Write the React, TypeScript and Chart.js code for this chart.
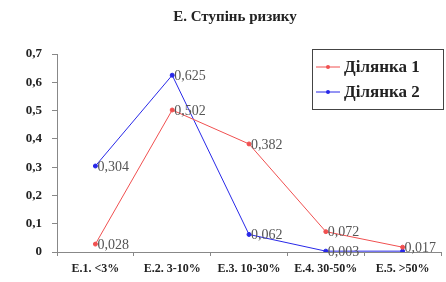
import React, { useEffect, useRef } from "react";
import { Chart, registerables } from "chart.js";

Chart.register(...registerables);

const titleText = "Е. Ступінь ризику";
const categories = ["Е.1. <3%", "Е.2. 3-10%", "Е.3. 10-30%", "Е.4. 30-50%", "Е.5. >50%"];
const series1Name = "Ділянка 1";
const series2Name = "Ділянка 2";
const series1 = [0.028, 0.502, 0.382, 0.072, 0.017];
const series2 = [0.304, 0.625, 0.062, 0.003, 0.003];
const series1Labels = ["0,028", "0,502", "0,382", "0,072", "0,017"];
const series2Labels = ["0,304", "0,625", "0,062", "0,003", ""];

const RED = "#f05050";
const BLUE = "#2828e8";
const SERIF = "'Liberation Serif', 'DejaVu Serif', serif";

const overlayPlugin = {
  id: "overlay",
  afterDatasetsDraw(chart: any) {
    const ctx = chart.ctx;
    ctx.save();
    const labelSets = [series1Labels, series2Labels];
    chart.data.datasets.forEach((_ds: any, di: number) => {
      const meta = chart.getDatasetMeta(di);
      meta.data.forEach((pt: any, i: number) => {
        const txt = labelSets[di][i];
        if (!txt) return;
        ctx.font = `14px ${SERIF}`;
        ctx.fillStyle = "#555";
        ctx.textAlign = "left";
        ctx.textBaseline = "middle";
        ctx.fillText(txt, pt.x + 2, pt.y + 1);
      });
    });
    ctx.font = `bold 15px ${SERIF}`;
    ctx.fillStyle = "#222";
    ctx.textAlign = "center";
    ctx.textBaseline = "middle";
    ctx.fillText(titleText, 235, 17);
    const bx = 312, by = 49, bw = 132, bh = 61;
    ctx.fillStyle = "#fff";
    ctx.fillRect(bx, by, bw, bh);
    ctx.strokeStyle = "#444";
    ctx.lineWidth = 1;
    ctx.strokeRect(bx + 0.5, by + 0.5, bw - 1, bh - 1);
    const items = [
      { name: series1Name, color: RED, y: by + 18 },
      { name: series2Name, color: BLUE, y: by + 43 },
    ];
    items.forEach((it) => {
      ctx.strokeStyle = it.color;
      ctx.beginPath();
      ctx.moveTo(bx + 4, it.y);
      ctx.lineTo(bx + 28, it.y);
      ctx.stroke();
      ctx.fillStyle = it.color;
      ctx.beginPath();
      ctx.arc(bx + 16, it.y, 2, 0, Math.PI * 2);
      ctx.fill();
      ctx.font = `bold 17px ${SERIF}`;
      ctx.fillStyle = "#222";
      ctx.textAlign = "left";
      ctx.textBaseline = "middle";
      ctx.fillText(it.name, bx + 32, it.y + 1);
    });
    ctx.restore();
  },
};

export default function App() {
  const ref = useRef<HTMLCanvasElement>(null);
  useEffect(() => {
    document.body.style.margin = "0";
    const chart = new Chart(ref.current!, {
      type: "line",
      data: {
        labels: categories,
        datasets: [
          {
            label: series1Name,
            data: series1,
            borderColor: RED,
            backgroundColor: RED,
            borderWidth: 1,
            pointRadius: 2,
            tension: 0,
          },
          {
            label: series2Name,
            data: series2,
            borderColor: BLUE,
            backgroundColor: BLUE,
            borderWidth: 1,
            pointRadius: 2,
            tension: 0,
          },
        ],
      },
      options: {
        animation: false,
        responsive: false,
        layout: { padding: { top: 54, right: 4, left: 0, bottom: 0 } },
        plugins: { legend: { display: false }, title: { display: false }, tooltip: { enabled: false } },
        scales: {
          x: {
            offset: true,
            grid: { offset: true, drawOnChartArea: false, drawTicks: true, tickLength: 4, color: "#888" },
            border: { color: "#888" },
            ticks: {
              font: { family: SERIF, size: 12, weight: "bold" },
              color: "#222",
              maxRotation: 0,
              autoSkip: false,
              padding: 6,
            },
            afterFit: (s: any) => { s.height = 30; },
          },
          y: {
            min: 0,
            max: 0.7,
            grid: { drawOnChartArea: false, drawTicks: true, tickLength: 5, color: "#888" },
            border: { color: "#888" },
            ticks: {
              stepSize: 0.1,
              font: { family: SERIF, size: 13, weight: "bold" },
              color: "#222",
              padding: 10,
              callback: (v: any) => (v === 0 ? "0" : Number(v).toFixed(1).replace(".", ",")),
            },
            afterFit: (s: any) => { s.width = 57; },
          },
        },
      },
      plugins: [overlayPlugin],
    });
    return () => chart.destroy();
  }, []);
  return (
    <div style={{ width: 446, height: 282 }}>
      <canvas ref={ref} width={446} height={282} style={{ width: 446, height: 282 }} />
    </div>
  );
}
